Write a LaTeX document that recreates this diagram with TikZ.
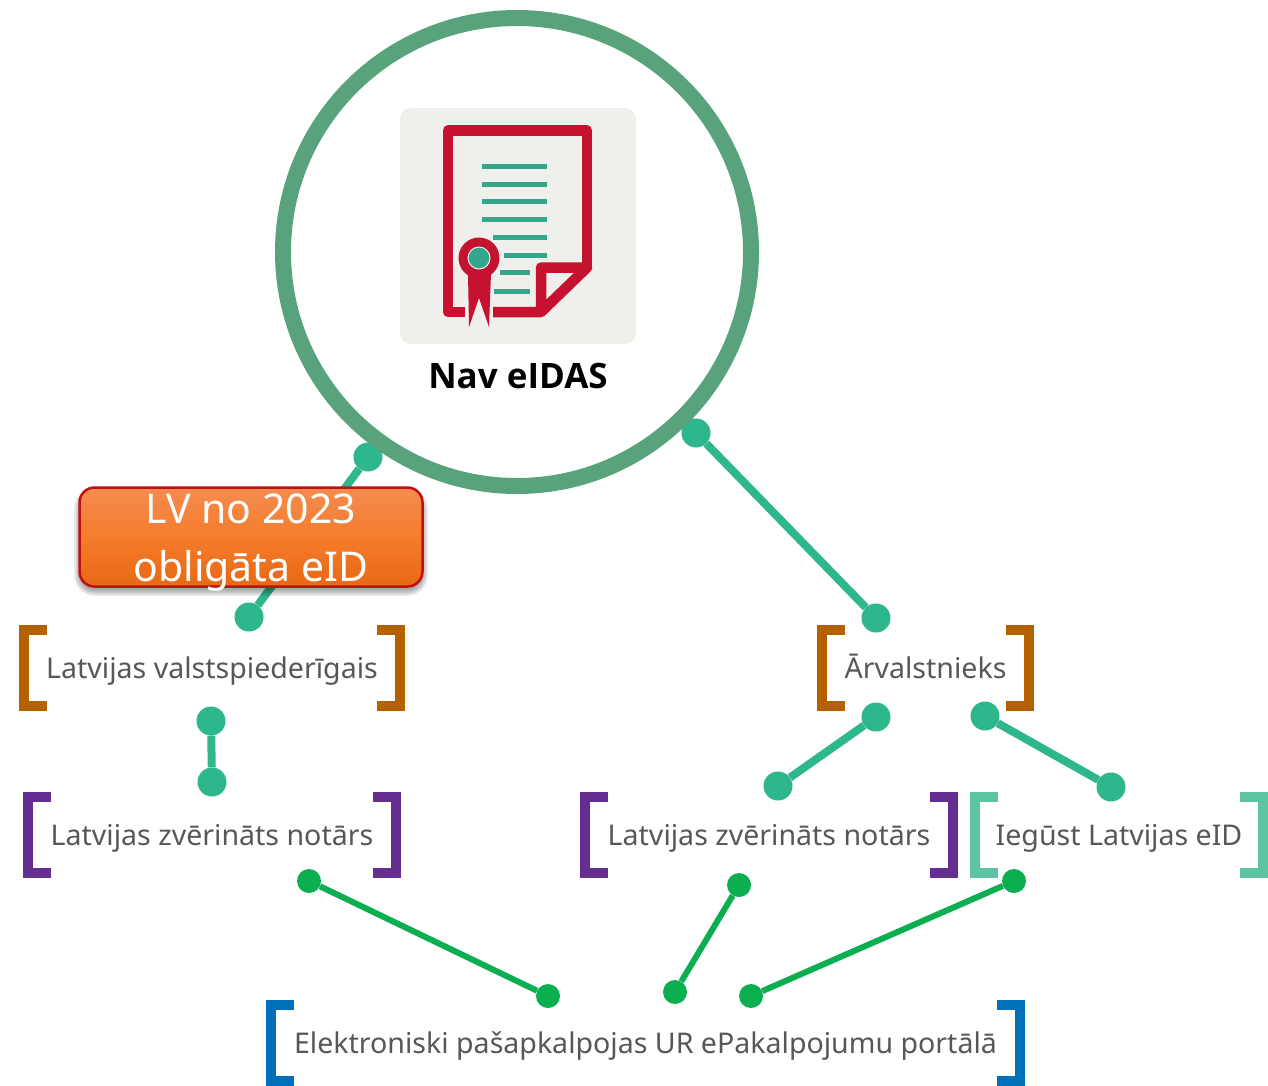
\documentclass[tikz,border=0pt]{standalone}
\usepackage{fontspec}
\setmainfont{Noto Sans}
\newfontfamily\titlefont{Open Sans}
\usetikzlibrary{calc}
\definecolor{ring}{HTML}{58A27C}
\definecolor{teal1}{HTML}{2EB68C}
\definecolor{green1}{HTML}{0BAF50}
\definecolor{iconbg}{HTML}{EFF0EC}
\definecolor{iconred}{HTML}{C41230}
\definecolor{iconteal}{HTML}{35A58C}
\definecolor{brorange}{HTML}{B46200}
\definecolor{brpurple}{HTML}{662D91}
\definecolor{brmint}{HTML}{5CC4A0}
\definecolor{brblue}{HTML}{0070B8}
\definecolor{txt}{HTML}{555759}
\tikzset{
  lbl/.style={inner sep=0pt,minimum height=86,text height=24,text depth=4,text=txt,font=\fontsize{28.55}{34}\selectfont},
  tdot/.style={circle,fill=teal1,inner sep=0pt,minimum size=29},
  gdot/.style={circle,fill=green1,inner sep=0pt,minimum size=24},
  tline/.style={draw=teal1,line width=8},
  gline/.style={draw=green1,line width=6},
  brk/.style={line width=10.5,miter limit=10},
  txline/.style={draw=iconteal,line width=5},
}
\newcommand{\brackets}[2]{%
  \draw[brk,#2] ($(#1.north west)+(28,5)$) -- ($(#1.north west)+(5,5)$) -- ($(#1.south west)+(5,-5)$) -- ($(#1.south west)+(28,-5)$);
  \draw[brk,#2] ($(#1.north east)+(-28,5)$) -- ($(#1.north east)+(-5,5)$) -- ($(#1.south east)+(-5,-5)$) -- ($(#1.south east)+(-28,-5)$);
}
\begin{document}
\begin{tikzpicture}[x=1pt,y=-1pt]
\useasboundingbox (0,0) rectangle (1268,1085);
\node[tdot] (d1) at (368,457) {};
\node[tdot] (d2) at (249,617) {};
\node[tdot] (d3) at (696,433) {};
\node[tdot] (d4) at (876,618) {};
\node[tdot] (d5) at (211,721) {};
\node[tdot] (d6) at (212,782) {};
\node[tdot] (d7) at (876,717) {};
\node[tdot] (d8) at (778,786) {};
\node[tdot] (d9) at (985,716) {};
\node[tdot] (d10) at (1111,787) {};
\node[gdot] (g1) at (309,881) {};
\node[gdot] (g2) at (548,996) {};
\node[gdot] (g3) at (739,885) {};
\node[gdot] (g4) at (675,992) {};
\node[gdot] (g5) at (1014,881) {};
\node[gdot] (g6) at (751,996) {};
\draw[tline] (d1) -- (d2);
\draw[tline] (d3) -- (d4);
\draw[tline] (d5) -- (d6);
\draw[tline] (d7) -- (d8);
\draw[tline] (d9) -- (d10);
\draw[gline] (g1) -- (g2);
\draw[gline] (g3) -- (g4);
\draw[gline] (g5) -- (g6);
\node[circle,draw=ring,line width=16,inner sep=0pt,minimum size=468] (main) at (517,252) {};
\node[fill=iconbg,rounded corners=11,inner sep=0pt,minimum width=236,minimum height=236] (icon) at (518,226) {};
\draw[iconred,line width=10.5,line join=round] (465,312) -- (448,312) -- (448,130.5) -- (587,130.5) -- (587,267.5);
\draw[iconred,line width=10.5,line join=round] (493,312) -- (541,312) -- (587,267.5) -- (541,267.5) -- (541,312);
\foreach \ya/\xa/\xb in {166/482/547,184/482/547,201.5/482/547,219/482/547,237/493/547,255/504/547,272.5/500/530,291/494/530}
  \draw[txline] (\xa,\ya) -- (\xb,\ya);
\fill[iconred] (468,273) -- (469,327) -- (479,298) -- (489,327) -- (491,273) -- cycle;
\fill[iconred] (479,258) circle (20.5);
\fill[iconteal,draw=iconbg,line width=1] (479,258) circle (11);
\node[font=\titlefont\fontsize{35}{38}\selectfont\bfseries,text=black,inner sep=0pt] (title) at (518,376) {Nav eIDAS};
% soft shadow of the callout
\foreach \g in {6,4.5,3,1.5,0}
  \fill[black,opacity=.08,rounded corners=15+\g] (80-\g,494-\g) rectangle (422+\g,590+\g);
\node[rounded corners=15,draw={rgb,255:red,192;green,16;blue,16},line width=2.5,minimum width=343,minimum height=99,inner sep=0pt,
  shade,top color={rgb,255:red,244;green,140;blue,80},bottom color={rgb,255:red,232;green,104;blue,20},middle color={rgb,255:red,245;green,124;blue,44}] (call) at (251,537) {};
\node[text=white,font=\fontsize{41}{58}\selectfont,align=center,inner sep=0pt] (calltext) at (251,543) {LV no 2023\\obligāta eID};
\node[lbl,minimum width=386] (a) at (212,668) {Latvijas valstspiederīgais};
\node[lbl,minimum width=378] (b) at (212,835) {Latvijas zvērināts notārs};
\node[lbl,minimum width=378] (c) at (769,835) {Latvijas zvērināts notārs};
\node[lbl,minimum width=298] (e) at (1119,835) {Iegūst Latvijas eID};
\node[lbl,minimum width=217] (f) at (925.5,668) {Ārvalstnieks};
\node[lbl,minimum width=759] (h) at (645.5,1043) {Elektroniski pašapkalpojas UR ePakalpojumu portālā};
\brackets{a}{brorange}
\brackets{f}{brorange}
\brackets{b}{brpurple}
\brackets{c}{brpurple}
\brackets{e}{brmint}
\brackets{h}{brblue}
\end{tikzpicture}
\end{document}
